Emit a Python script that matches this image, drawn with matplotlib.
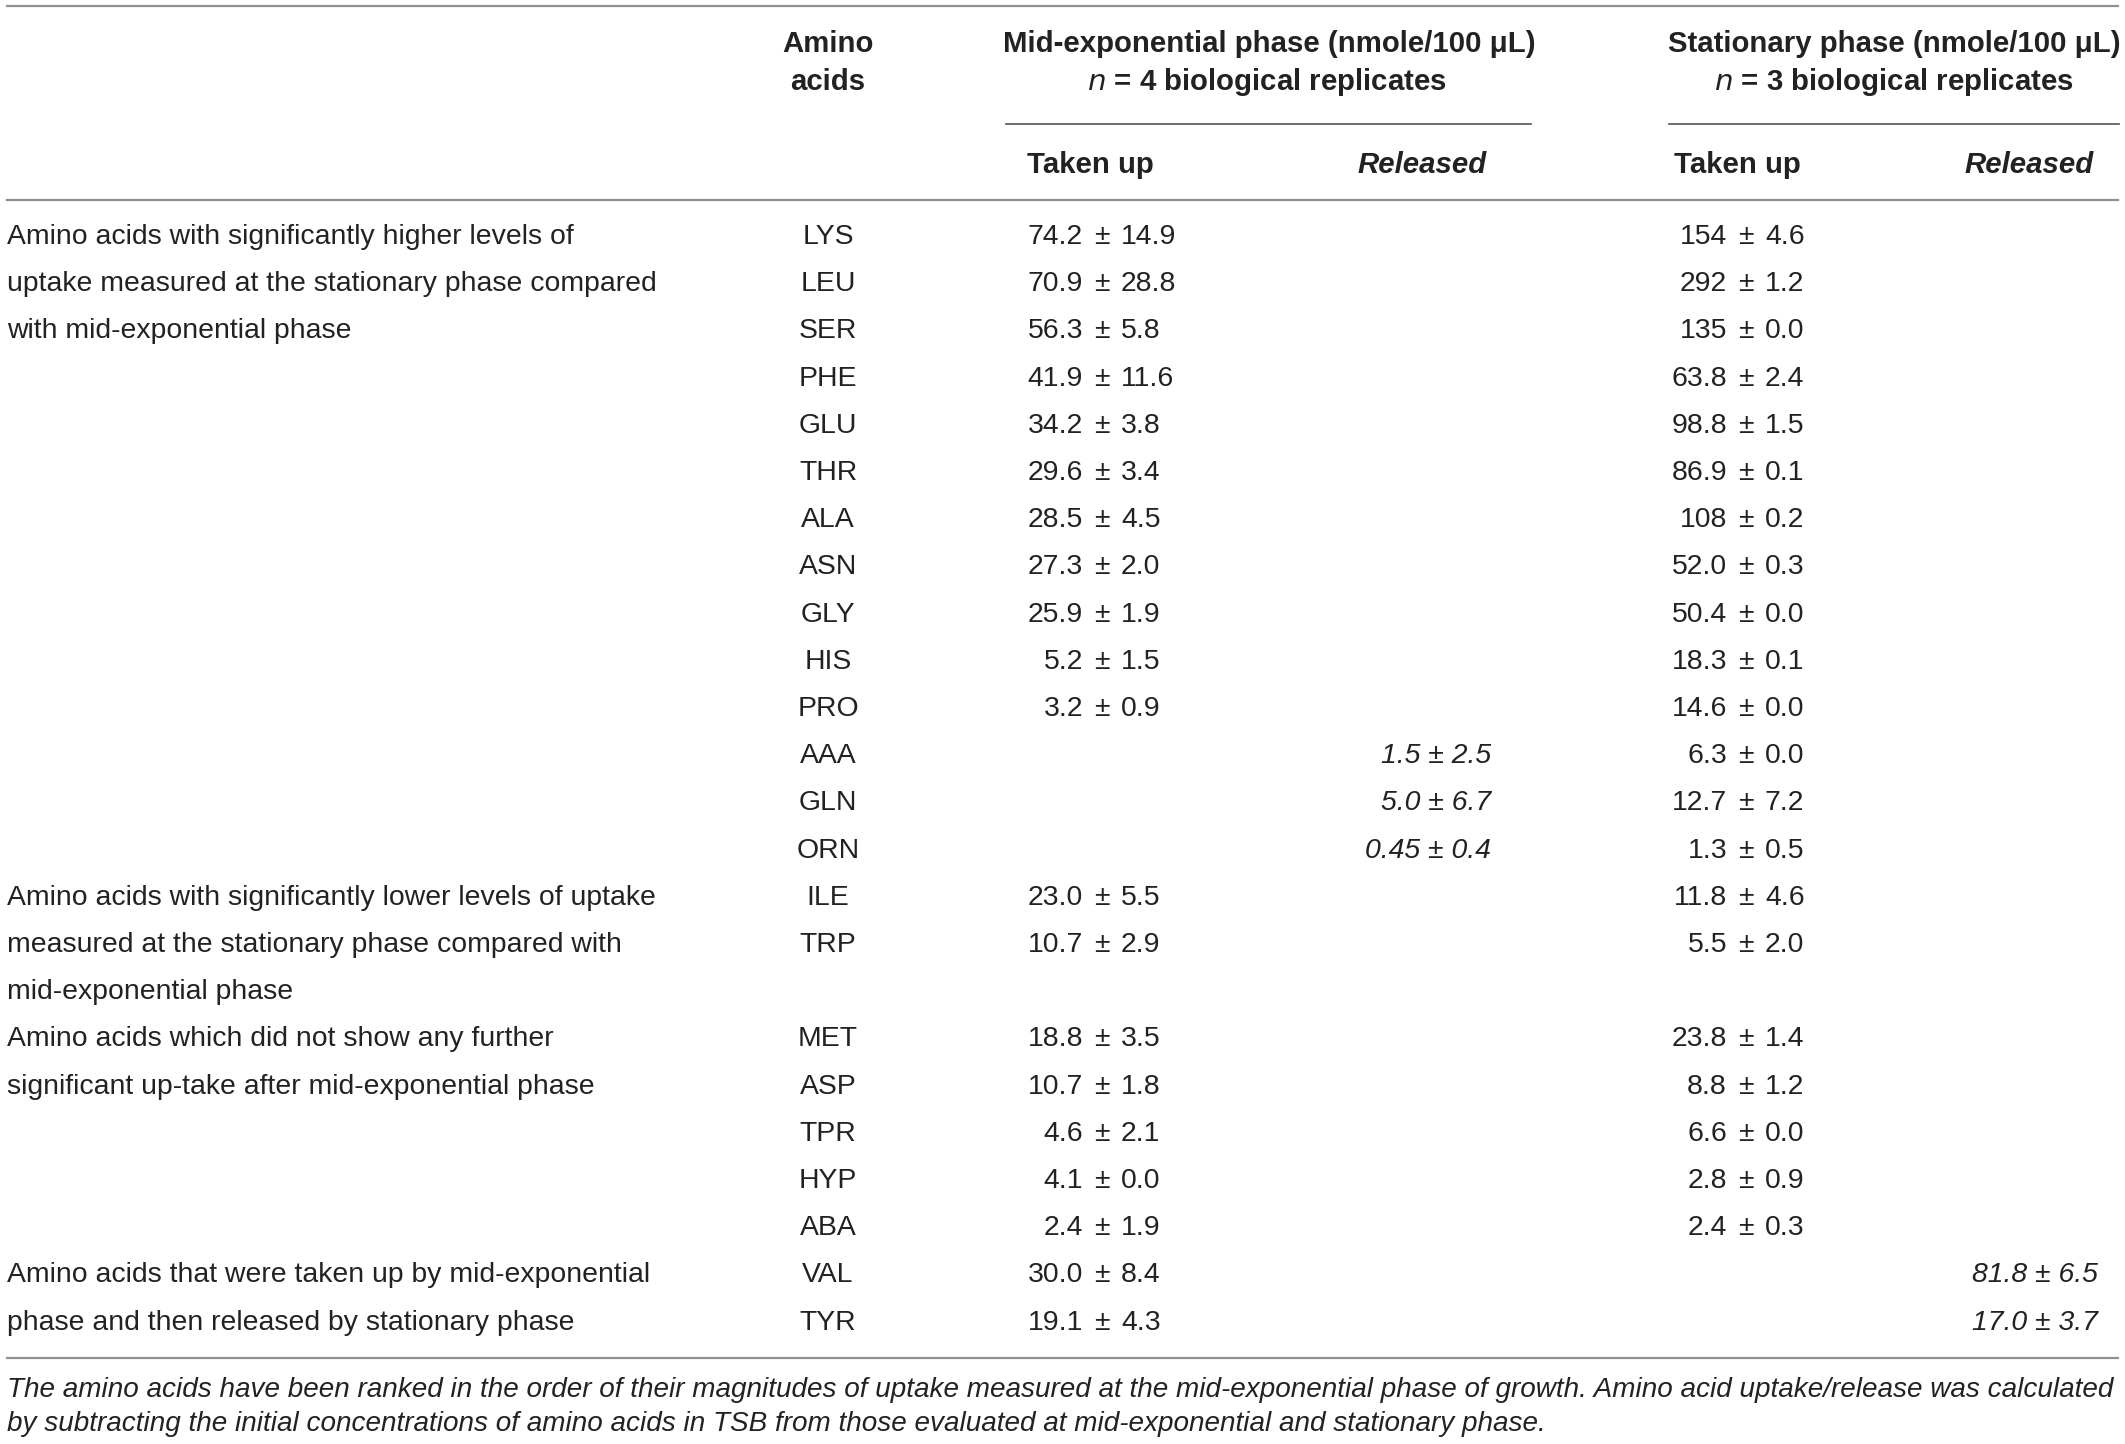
import matplotlib
matplotlib.use("Agg")
from matplotlib import pyplot as plt

# table content
amino = ["LYS", "LEU", "SER", "PHE", "GLU", "THR", "ALA", "ASN", "GLY", "HIS", "PRO",
         "AAA", "GLN", "ORN", "ILE", "TRP", "MET", "ASP", "TPR", "HYP", "ABA", "VAL", "TYR"]
mid_up = ["74.2 ± 14.9", "70.9 ± 28.8", "56.3 ± 5.8", "41.9 ± 11.6", "34.2 ± 3.8",
          "29.6 ± 3.4", "28.5 ± 4.5", "27.3 ± 2.0", "25.9 ± 1.9", "5.2 ± 1.5", "3.2 ± 0.9",
          "", "", "", "23.0 ± 5.5", "10.7 ± 2.9", "18.8 ± 3.5", "10.7 ± 1.8", "4.6 ± 2.1",
          "4.1 ± 0.0", "2.4 ± 1.9", "30.0 ± 8.4", "19.1 ± 4.3"]
mid_rel = [""] * 11 + ["1.5 ± 2.5", "5.0 ± 6.7", "0.45 ± 0.4"] + [""] * 9
stat_up = ["154 ± 4.6", "292 ± 1.2", "135 ± 0.0", "63.8 ± 2.4", "98.8 ± 1.5", "86.9 ± 0.1",
           "108 ± 0.2", "52.0 ± 0.3", "50.4 ± 0.0", "18.3 ± 0.1", "14.6 ± 0.0", "6.3 ± 0.0",
           "12.7 ± 7.2", "1.3 ± 0.5", "11.8 ± 4.6", "5.5 ± 2.0", "23.8 ± 1.4", "8.8 ± 1.2",
           "6.6 ± 0.0", "2.8 ± 0.9", "2.4 ± 0.3", "", ""]
stat_rel = [""] * 21 + ["81.8 ± 6.5", "17.0 ± 3.7"]

groups = [
    ("LYS", ["Amino acids with significantly higher levels of",
             "uptake measured at the stationary phase compared",
             "with mid-exponential phase"]),
    ("ILE", ["Amino acids with significantly lower levels of uptake",
             "measured at the stationary phase compared with",
             "mid-exponential phase"]),
    ("MET", ["Amino acids which did not show any further",
             "significant up-take after mid-exponential phase"]),
    ("VAL", ["Amino acids that were taken up by mid-exponential",
             "phase and then released by stationary phase"]),
]
footnote = ["The amino acids have been ranked in the order of their magnitudes of uptake measured at the mid-exponential phase of growth. Amino acid uptake/release was calculated",
            "by subtracting the initial concentrations of amino acids in TSB from those evaluated at mid-exponential and stationary phase."]

W, H = 2125, 1444
fig = plt.figure(figsize=(W / 100, H / 100), dpi=100)
ax = fig.add_axes([0, 0, 1, 1])
ax.set_xlim(0, W)
ax.set_ylim(H, 0)
ax.axis("off")

font = "Liberation Sans"
txt = "#222222"
rule = "#8f8f8f"
fs = 20.4

# header
ax.plot([7, 2118], [6, 6], color=rule, lw=1.6)
ax.plot([7, 2118], [200, 200], color=rule, lw=1.6)
ax.plot([1006, 1531], [124, 124], color="#555555", lw=1.2)
ax.plot([1669, 2119], [124, 124], color="#555555", lw=1.2)
hd = dict(family=font, fontsize=21.2, fontweight="bold", color=txt, va="center")
ax.text(828, 44, "Amino", ha="center", **hd)
ax.text(828, 82, "acids", ha="center", **hd)
ax.text(1269, 44, "Mid-exponential phase (nmole/100 μL)", ha="center", **hd)
ax.text(1267, 82, "$\\it{n}$ = 4 biological replicates", ha="center", **hd)
ax.text(1894, 44, "Stationary phase (nmole/100 μL)", ha="center", **hd)
ax.text(1894, 82, "$\\it{n}$ = 3 biological replicates", ha="center", **hd)
ax.text(1027, 165, "Taken up", ha="left", **hd)
ax.text(1487, 165, "Released", ha="right", style="italic", **hd)
ax.text(1674, 165, "Taken up", ha="left", **hd)
ax.text(2094, 165, "Released", ha="right", style="italic", **hd)

# rows
y0, dy = 237, 47.2
gap_at = amino.index("MET")
slot = [i + (1 if i >= gap_at else 0) for i in range(len(amino))]
cell = dict(family=font, fontsize=fs, color=txt, va="center")


def pm_cell(x, y, s):
    if not s:
        return
    a, b = s.split(" ± ")
    ax.text(x - 19, y, a, ha="right", **cell)
    ax.text(x, y, "±", ha="center", **cell)
    ax.text(x + 19, y, b, ha="left", **cell)


for i, aa in enumerate(amino):
    y = y0 + slot[i] * dy
    ax.text(828, y, aa, ha="center", **cell)
    pm_cell(1102, y, mid_up[i])
    pm_cell(1746, y, stat_up[i])
    if mid_rel[i]:
        ax.text(1491, y, mid_rel[i], ha="right", style="italic", **cell)
    if stat_rel[i]:
        ax.text(2098, y, stat_rel[i], ha="right", style="italic", **cell)

for first, lines in groups:
    s = slot[amino.index(first)]
    for k, line in enumerate(lines):
        ax.text(7, y0 + (s + k) * dy, line, ha="left", **cell)

ax.plot([7, 2118], [1358, 1358], color=rule, lw=1.6)
for k, line in enumerate(footnote):
    ax.text(7, 1390 + k * 34, line, ha="left", family=font, fontsize=20.1,
            style="italic", color=txt, va="center")

fig.savefig("out.png", dpi=100)
